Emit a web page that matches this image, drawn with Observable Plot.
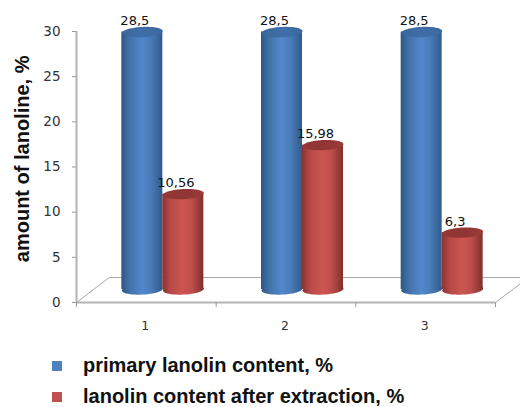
<!DOCTYPE html>
<html>
<head>
<meta charset="utf-8">
<script src="https://cdn.jsdelivr.net/npm/d3@7"></script>
<script src="https://cdn.jsdelivr.net/npm/@observablehq/plot@0.6"></script>
<style>
html,body{margin:0;padding:0;background:#fff;width:520px;height:407px;overflow:hidden}
svg{display:block}
#legend{position:relative;width:520px;height:67px;font:bold 20px "Liberation Sans",sans-serif;color:#111}
.row{position:absolute;left:0;white-space:nowrap}
.sw{position:absolute;left:52px;top:5px;width:10px;height:10px}
.lb{position:absolute;left:83px;top:0;line-height:19px}
</style>
</head>
<body>
<div id="chart"></div>
<div id="legend"></div>
<script>
const categories = [1, 2, 3];
const primaryContent = [28.5, 28.5, 28.5];
const afterExtraction = [10.56, 15.98, 6.3];
const seriesNames = ["primary lanolin content, %", "lanolin content after extraction, %"];
const swatches = ["#4f81bd", "#c0504d"];
const yTicks = [0, 5, 10, 15, 20, 25, 30];

const barW = 41 / 139.67;
const blue = categories.map((c, i) => ({c, v: primaryContent[i], x1: c - barW, x2: c, xm: c - barW / 2}));
const red = categories.map((c, i) => ({c, v: afterExtraction[i], x1: c, x2: c + barW, xm: c + barW / 2}));
const label = d => String(d.v).replace(".", ",");

// flattened, slightly tilted ellipse for the cylinder caps
const cap = {
  draw(ctx, size) {
    const rx = Math.sqrt(size / Math.PI), ry = rx * 0.25, t = -0.05, n = 48;
    for (let k = 0; k <= n; k++) {
      const a = k / n * 2 * Math.PI;
      const ex = rx * Math.cos(a), ey = ry * Math.sin(a);
      const px = ex * Math.cos(t) - ey * Math.sin(t), py = ex * Math.sin(t) + ey * Math.cos(t);
      k ? ctx.lineTo(px, py) : ctx.moveTo(px, py);
    }
    ctx.closePath();
  }
};

function grad(id, stops) {
  return `<linearGradient id="${id}" x1="0" x2="1" y1="0" y2="0">` +
    stops.map(([o, c]) => `<stop offset="${o}" stop-color="${c}"/>`).join("") + `</linearGradient>`;
}
const defs = () => {
  const g = document.createElementNS("http://www.w3.org/2000/svg", "g");
  g.innerHTML = "<defs>" +
    grad("gb", [[0, "#2f5685"], [0.2, "#4272aa"], [0.5, "#5287cb"], [0.72, "#4a7cb8"], [1, "#2f5a8c"]]) +
    grad("gr", [[0, "#8a3230"], [0.2, "#b84a47"], [0.5, "#cd5551"], [0.72, "#bd4d4a"], [1, "#7f2f2d"]]) +
    grad("gbt", [[0, "#3a6699"], [0.5, "#3f6ea8"], [1, "#3a6a9f"]]) +
    grad("grt", [[0, "#953836"], [0.5, "#8f3533"], [1, "#9a3a38"]]) +
    "</defs>";
  return g;
};

const DX = 16.5, DY = -13, R = 20.5;
const axisColor = "#b4b4b4";
const cyl = (data, body, top) => [
  Plot.dot(data, {x: "xm", y: () => 0, r: R, symbol: cap, fill: `url(#${body})`, stroke: "none", dx: DX, dy: DY}),
  Plot.rectY(data, {x1: "x1", x2: "x2", y1: () => 0, y2: "v", fill: `url(#${body})`, dx: DX, dy: DY}),
  Plot.dot(data, {x: "xm", y: "v", r: R, symbol: cap, fill: `url(#${top})`, stroke: "none", dx: DX, dy: DY})
];
const lab = data => Plot.text(data, {
  x: "xm", y: "v", text: label, dx: DX - 7.5, dy: -24, fontSize: 13, fill: "#111",
  fontFamily: "DejaVu Sans"
});

const plot = Plot.plot({
  width: 520, height: 340,
  marginLeft: 76, marginRight: 25, marginTop: 31, marginBottom: 38,
  style: {background: "#fff", overflow: "visible"},
  x: {domain: [0.5, 3.5]},
  y: {domain: [0, 30]},
  marks: [
    defs,
    // floor
    Plot.link([{a: 0.5, b: 0, c: 0.736, d: 2.77}, {a: 3.5, b: 0, c: 3.68, d: 2.1}, {a: 0.736, b: 2.77, c: 3.68, d: 2.77}],
      {x1: "a", y1: "b", x2: "c", y2: "d", stroke: "#a8a8a8", strokeWidth: 1}),
    Plot.ruleY([0], {x1: 0.5, x2: 3.5, stroke: axisColor, strokeWidth: 2}),
    Plot.ruleX([0.5], {y1: 0, y2: 30, stroke: axisColor, strokeWidth: 2}),
    Plot.axisY({ticks: yTicks, anchor: "left", tickSize: 4, tickPadding: 12, stroke: "#999", fontSize: 13.5, fill: "#333",
      fontFamily: "DejaVu Sans", label: null, tickFormat: d => d}),
    Plot.axisX({ticks: [0.5, 1.5, 2.5, 3.5], tickSize: 5, stroke: "#999", tickFormat: () => "", label: null}),
    Plot.axisX({ticks: categories, tickSize: 0, tickPadding: 19, fontSize: 12.5, fill: "#333", dx: -1,
      fontFamily: "DejaVu Sans", label: null, tickFormat: d => d}),
    ...cyl(blue, "gb", "gbt"),
    ...cyl(red, "gr", "grt"),
    lab(blue), lab(red),
    Plot.text(["amount of lanoline, %"], {
      frameAnchor: "left", dx: -54, y: 15.9, rotate: -90, fontSize: 20, fontWeight: "bold",
      fontFamily: "Liberation Sans", fill: "#111", textAnchor: "middle"
    })
  ]
});
document.getElementById("chart").appendChild(plot);

const lg = document.getElementById("legend");
seriesNames.forEach((n, i) => {
  const r = document.createElement("div");
  r.className = "row";
  r.style.top = (i ? 47 : 16) + "px";
  r.innerHTML = `<span class="sw" style="background:${swatches[i]}"></span><span class="lb">${n}</span>`;
  lg.appendChild(r);
});
</script>
</body>
</html>
